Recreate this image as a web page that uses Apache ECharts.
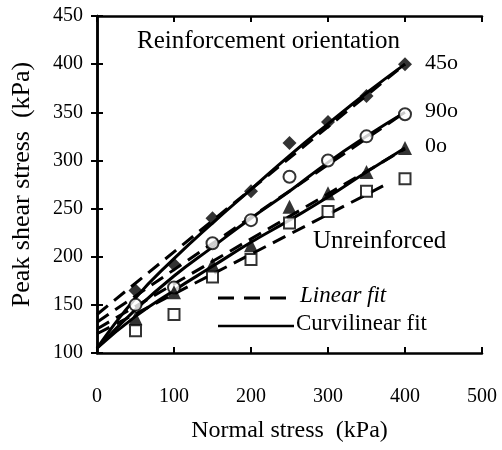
<!DOCTYPE html>
<html>
<head>
<meta charset="utf-8">
<style>
  html, body { margin: 0; padding: 0; background: #fff; }
  #chart { width: 502px; height: 450px; }
</style>
<script src="https://cdn.jsdelivr.net/npm/echarts@6/dist/echarts.min.js"></script>
</head>
<body>
<div id="chart"></div>
<script>
  // measured points (normal stress, peak shear stress)
  var pts45 = [[50, 165], [100, 192], [150, 240], [200, 268], [250, 318], [300, 340], [350, 367], [400, 400]];
  var pts90 = [[50, 150], [100, 168], [150, 214], [200, 238], [250, 283], [300, 300], [350, 325], [400, 348]];
  var pts0 = [[50, 136], [100, 163], [150, 192], [200, 212], [250, 252], [300, 266], [350, 288], [400, 313]];
  var ptsUn = [[50, 123], [100, 140], [150, 179], [200, 197], [250, 235], [300, 247], [350, 268], [400, 281]];

  // linear fits (dashed)
  var lin45 = [[0, 140], [400, 400]];
  var lin90 = [[0, 132], [400, 350]];
  var lin0 = [[0, 125], [400, 312]];
  var linUn = [[0, 120], [380, 277]];

  // curvilinear fits (solid)
  var cur45 = [[0, 105], [50, 157], [100, 198], [150, 235], [200, 270], [250, 305], [300, 338], [350, 370], [400, 400]];
  var cur90 = [[0, 105], [50, 145], [100, 180], [150, 210], [200, 240], [250, 268], [300, 298], [350, 325], [400, 350]];
  var cur0 = [[0, 105], [50, 138], [100, 165], [150, 190], [200, 215], [250, 238], [300, 262], [350, 288], [400, 313]];

  var xTicks = [0, 100, 200, 300, 400, 500];
  var yTicks = [100, 150, 200, 250, 300, 350, 400, 450];

  var font = 'Liberation Serif';
  var chart = echarts.init(document.getElementById('chart'));

  function fit(data, dashed) {
    return {
      type: 'line', data: data, symbol: 'none', smooth: !dashed,
      lineStyle: { color: '#000', width: 3, type: dashed ? [14, 8] : 'solid' },
      silent: true, z: 2
    };
  }
  function marks(data, symbol, filled, size) {
    return {
      type: 'scatter', data: data, symbol: symbol, symbolSize: size,
      itemStyle: { color: filled ? '#000' : '#fff', borderColor: '#000', borderWidth: filled ? 0 : 2 },
      z: 3
    };
  }

  var tick = { show: true, inside: true, length: 6, lineStyle: { color: '#000', width: 2 } };
  var line = { show: true, lineStyle: { color: '#000', width: 2.5 } };

  var option = {
    animation: false,
    grid: { left: 97, right: 20, top: 16, bottom: 97 },
    xAxis: [{
      type: 'value', min: 0, max: 500, interval: 100,
      name: 'Normal stress  (kPa)', nameLocation: 'middle', nameGap: 66,
      nameTextStyle: { fontFamily: font, fontSize: 24, color: '#000' },
      axisLine: line, axisTick: tick, splitLine: { show: false },
      axisLabel: { margin: 34, fontFamily: font, fontSize: 20, color: '#000',
        formatter: function (v) { return xTicks.indexOf(v) >= 0 ? String(v) : ''; } }
    }, {
      type: 'value', min: 0, max: 500, interval: 100, position: 'top',
      axisLine: line, axisTick: tick, axisLabel: { show: false }, splitLine: { show: false }
    }],
    yAxis: [{
      type: 'value', min: 100, max: 450, interval: 50,
      name: 'Peak shear stress  (kPa)', nameLocation: 'middle', nameGap: 62,
      nameTextStyle: { fontFamily: font, fontSize: 26, color: '#000' },
      axisLine: line, axisTick: tick, splitLine: { show: false },
      axisLabel: { margin: 14, fontFamily: font, fontSize: 20, color: '#000',
        formatter: function (v) { return yTicks.indexOf(v) >= 0 ? String(v) : ''; } }
    }, {
      type: 'value', min: 100, max: 450, interval: 50, position: 'right',
      axisLine: line, axisTick: tick, axisLabel: { show: false }, splitLine: { show: false }
    }],
    series: [
      fit(lin45, true), fit(lin90, true), fit(lin0, true), fit(linUn, true),
      fit(cur45, false), fit(cur90, false), fit(cur0, false),
      marks(pts45, 'diamond', true, 14),
      marks(pts90, 'circle', false, 12),
      marks(pts0, 'triangle', true, 14),
      marks(ptsUn, 'rect', false, 11)
    ],
    graphic: [
      { type: 'text', left: 137, top: 29, style: { text: 'Reinforcement orientation', font: '25px "Liberation Serif"', fill: '#000' } },
      { type: 'text', left: 425, top: 52, style: { text: '45o', font: '22px "Liberation Serif"', fill: '#000' } },
      { type: 'text', left: 425, top: 100, style: { text: '90o', font: '22px "Liberation Serif"', fill: '#000' } },
      { type: 'text', left: 425, top: 135, style: { text: '0o', font: '22px "Liberation Serif"', fill: '#000' } },
      { type: 'text', left: 313, top: 229, style: { text: 'Unreinforced', font: '25px "Liberation Serif"', fill: '#000' } },
      { type: 'line', shape: { x1: 218, y1: 298, x2: 290, y2: 298 }, style: { stroke: '#000', lineWidth: 3, lineDash: [16, 10] } },
      { type: 'text', left: 300, top: 284, style: { text: 'Linear fit', font: 'italic 23px "Liberation Serif"', fill: '#000' } },
      { type: 'line', shape: { x1: 218, y1: 326, x2: 294, y2: 326 }, style: { stroke: '#000', lineWidth: 2.5 } },
      { type: 'text', left: 296, top: 312, style: { text: 'Curvilinear fit', font: '23px "Liberation Serif"', fill: '#000' } }
    ]
  };

  chart.setOption(option);
</script>
</body>
</html>
